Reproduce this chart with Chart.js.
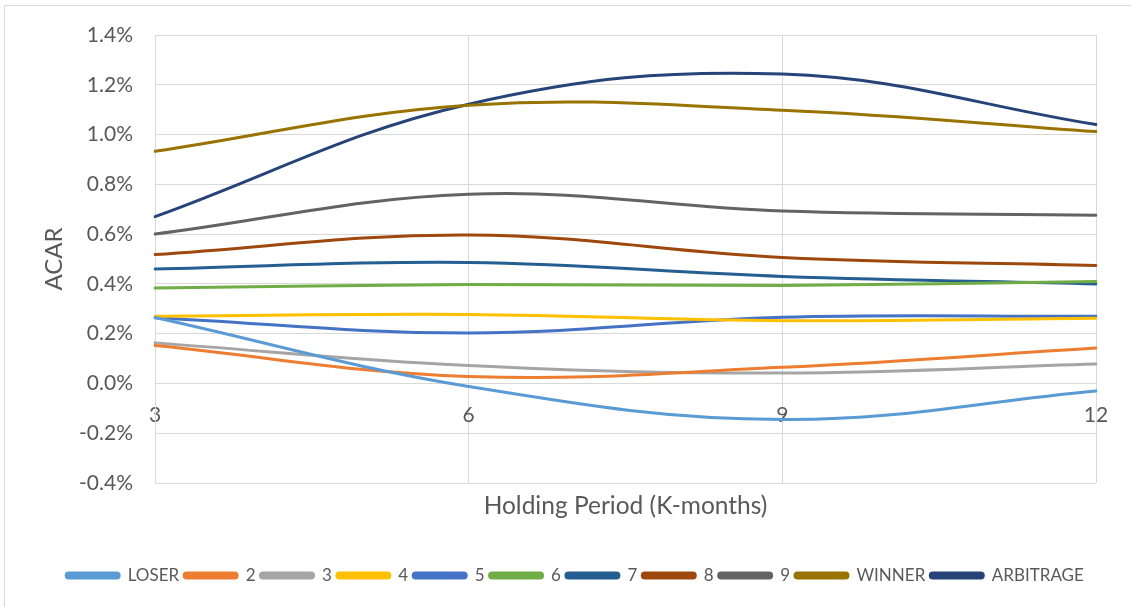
<!DOCTYPE html>
<html>
<head>
<meta charset="utf-8">
<script src="https://cdn.jsdelivr.net/npm/chart.js@4.4.1/dist/chart.umd.min.js"></script>
<style>
  html, body { margin: 0; padding: 0; background: #ffffff; overflow: hidden; }
  #wrap { position: relative; width: 1131px; height: 607px; }
  #frame { position: absolute; left: 4px; top: 5px; width: 1140px; height: 620px; border: 1px solid #d9d9d9; box-sizing: border-box; }
  #chart { position: absolute; left: 0; top: 0; }
</style>
</head>
<body>
<div id="wrap">
  <div id="frame"></div>
  <canvas id="chart" width="1131" height="607"></canvas>
</div>
<script>
// Holding periods (months)
const holdingPeriods = ['3', '6', '9', '12'];

// Average cumulative abnormal returns, in percent, per portfolio
const loser     = [0.265, -0.012, -0.145, -0.030];
const p2        = [0.152, 0.028, 0.065, 0.142];
const p3        = [0.163, 0.072, 0.042, 0.078];
const p4        = [0.270, 0.277, 0.252, 0.262];
const p5        = [0.264, 0.203, 0.266, 0.270];
const p6        = [0.383, 0.398, 0.394, 0.410];
const p7        = [0.460, 0.486, 0.430, 0.400];
const p8        = [0.518, 0.596, 0.506, 0.474];
const p9        = [0.600, 0.760, 0.693, 0.676];
const winner    = [0.933, 1.118, 1.098, 1.012];
const arbitrage = [0.670, 1.122, 1.243, 1.040];

const seriesNames = ['LOSER', '2', '3', '4', '5', '6', '7', '8', '9', 'WINNER', 'ARBITRAGE'];
const seriesValues = [loser, p2, p3, p4, p5, p6, p7, p8, p9, winner, arbitrage];
const seriesColors = ['#5b9bd5', '#ed7d31', '#a5a5a5', '#ffc000', '#4472c4', '#70ad47',
                      '#255e91', '#9e480e', '#636363', '#997300', '#264478'];

// Value axis range and step, in percent
const yMin = -0.4, yMax = 1.4, yStep = 0.2;

const FONT = 'Lato, "Open Sans", sans-serif';
const TEXT = '#595959';
const GRID = '#d9d9d9';

const datasets = seriesNames.map((name, i) => ({
  label: name,
  data: seriesValues[i],
  borderColor: seriesColors[i],
  backgroundColor: seriesColors[i],
  borderWidth: 3,
  pointRadius: 0,
  pointHoverRadius: 0,
  tension: 0.38,
  borderCapStyle: 'round',
  borderJoinStyle: 'round',
  fill: false
}));

new Chart(document.getElementById('chart'), {
  type: 'line',
  data: { labels: holdingPeriods, datasets },
  options: {
    responsive: false,
    animation: false,
    devicePixelRatio: 1,
    layout: { padding: { left: 19, right: 0, top: 35, bottom: 13 } },
    plugins: {
      tooltip: { enabled: false },
      legend: {
        position: 'bottom',
        labels: {
          color: TEXT,
          font: { family: FONT, size: 17 },
          boxWidth: 53,
          boxHeight: 5,
          useBorderRadius: true,
          borderRadius: 2.5,
          padding: 5
        }
      }
    },
    scales: {
      x: {
        type: 'category',
        position: { y: 0 },
        offset: false,
        grid: { color: GRID, lineWidth: 1, drawTicks: false },
        border: { color: GRID, width: 1 },
        ticks: { color: TEXT, font: { family: FONT, size: 21 }, padding: 19, maxRotation: 0 }
      },
      xTitle: {
        type: 'category',
        position: 'bottom',
        labels: holdingPeriods,
        grid: { display: false, drawTicks: false },
        border: { display: false },
        ticks: { display: false },
        title: {
          display: true,
          text: 'Holding Period (K-months)',
          color: TEXT,
          font: { family: FONT, size: 24.5 },
          padding: { top: 0, bottom: 41 }
        },
        afterFit: (s) => { s.height = 79; }
      },
      y: {
        min: yMin,
        max: yMax,
        grid: { color: GRID, lineWidth: 1, drawTicks: false },
        border: { color: GRID, width: 1 },
        ticks: {
          stepSize: yStep,
          color: TEXT,
          font: { family: FONT, size: 21 },
          padding: 22,
          callback: (v) => (Math.abs(v) < 1e-9 ? 0 : Number(v)).toFixed(1) + '%'
        },
        title: {
          display: true,
          text: 'ACAR',
          color: TEXT,
          font: { family: FONT, size: 24 },
          padding: { top: 21, bottom: 0 }
        },
        afterFit: (s) => { s.width = 136; }
      },
      // empty margin to the right of the plot area
      rightMargin: {
        type: 'linear',
        position: 'right',
        grid: { display: false, drawTicks: false },
        border: { display: false },
        ticks: { display: false },
        afterFit: (s) => { s.width = 35; }
      }
    }
  }
});
</script>
</body>
</html>
